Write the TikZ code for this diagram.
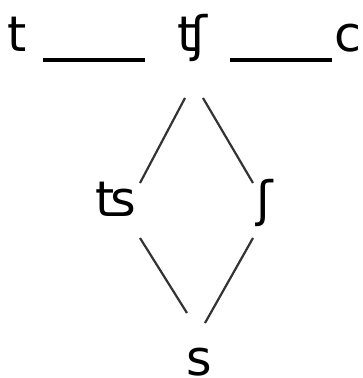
\documentclass[tikz,border=0pt]{standalone}
\usepackage{fontspec}
\setmainfont{DejaVu Sans}

\begin{document}
\begin{tikzpicture}[x=1pt, y=1pt, every node/.style={inner sep=0pt, anchor=base, font=\fontsize{49}{58}\selectfont}]
            \useasboundingbox (0,0) rectangle (362,378);

            % 音
            \node (t) at (17.5,326) {t};
            \node (tsh) at (192,326) {ʧ};
            \node (c) at (348,326) {c};
            \node (ts) at (116,161) {ʦ};
            \node (sh) at (265,161) {ʃ};
            \node (s) at (199,2) {s};

            % 横线
            \draw[line width=3.5pt] ([shift={(25.5,-8)}]t.base) -- ([shift={(-47,-8)}]tsh.base);
            \draw[line width=3.5pt] ([shift={(38,-8)}]tsh.base) -- ([shift={(-16,-8)}]c.base);

            % 斜线
            \draw[line width=2.2pt, black!80] ([shift={(-7,-46)}]tsh.base) -- ([shift={(24,34)}]ts.base);
            \draw[line width=2.2pt, black!80] ([shift={(11,-46)}]tsh.base) -- ([shift={(-12,34)}]sh.base);
            \draw[line width=2.2pt, black!80] ([shift={(24,-21)}]ts.base) -- ([shift={(-12,63)}]s.base);
            \draw[line width=2.2pt, black!80] ([shift={(-12,-21)}]sh.base) -- ([shift={(6,53)}]s.base);
        \end{tikzpicture}
\end{document}
